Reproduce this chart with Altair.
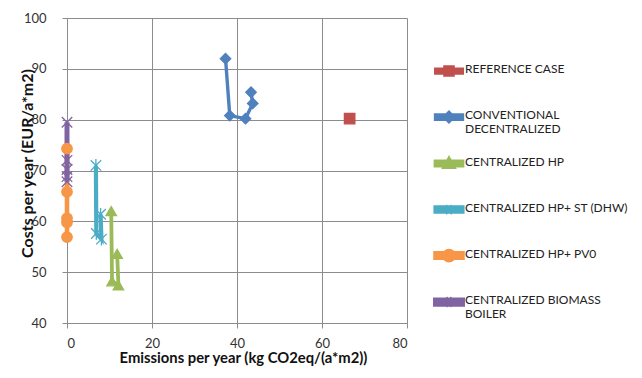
import altair as alt
import pandas as pd

series = [
    "REFERENCE CASE",
    "CONVENTIONAL DECENTRALIZED",
    "CENTRALIZED HP",
    "CENTRALIZED HP+ ST (DHW)",
    "CENTRALIZED HP+ PV0",
    "CENTRALIZED BIOMASS BOILER",
]
colors = ["#c0504d", "#4f81bd", "#9bbb59", "#4bacc6", "#f79646", "#8064a2"]
line_widths = [3, 5, 5, 5, 2.5, 2.5]

ref_x = [66.5]
ref_y = [80.2]
conv_x = [37.3, 38.3, 42.0, 43.7, 43.3]
conv_y = [92.0, 80.8, 80.2, 83.2, 85.4]
hp_x = [10.4, 10.6, 12.1, 11.8]
hp_y = [62.0, 48.2, 47.4, 53.6]
hpst_x = [6.8, 6.9, 8.1, 7.9]
hpst_y = [71.0, 57.6, 56.5, 61.4]
pv_x = [0.0, 0.0, 0.0, 0.0, 0.0]
pv_y = [74.3, 65.8, 60.6, 59.8, 56.9]
bio_x = [0.0, 0.0, 0.0, 0.0, 0.0]
bio_y = [79.5, 72.0, 70.2, 68.8, 67.8]

xs = [ref_x, conv_x, hp_x, hpst_x, pv_x, bio_x]
ys = [ref_y, conv_y, hp_y, hpst_y, pv_y, bio_y]

rows = []
for s, sx, sy in zip(series, xs, ys):
    for i, (a, b) in enumerate(zip(sx, sy)):
        rows.append({"series": s, "x": a, "y": b, "order": i})
df = pd.DataFrame(rows)
leg_df = pd.DataFrame({"key": series})

# marker shapes in plot
plot_shapes = [
    "square",
    "diamond",
    "triangle-up",
    "M-1,-1L1,1M1,-1L-1,1M0,-1.2L0,1.2",
    "circle",
    "M-1,-1L1,1M1,-1L-1,1",
]
# legend glyphs (line with marker), drawn slightly below anchor so they sit level with the label text
bar = "M-2.2,0.8H2.2V1.5H-2.2Z "
leg_shapes = [
    bar + "M-0.7,0.45H0.7V1.85H-0.7Z",
    bar + "M0,0.4L0.75,1.15L0,1.9L-0.75,1.15Z",
    bar + "M0,0.4L0.75,1.75L-0.75,1.75Z",
    bar + "M-0.6,0.55L0.6,1.75M0.6,0.55L-0.6,1.75",
    bar + "M0.75,1.15A0.75,0.75 0 1,1 -0.75,1.15A0.75,0.75 0 1,1 0.75,1.15Z",
    bar + "M-0.6,0.55L0.6,1.75M0.6,0.55L-0.6,1.75",
]

font = "Lato"

x_enc = alt.X("x:Q", scale=alt.Scale(domain=[0, 80]),
              axis=alt.Axis(title="Emissions per year (kg CO2eq/(a*m2))", values=[0, 20, 40, 60, 80],
                            titleX=176))
y_enc = alt.Y("y:Q", scale=alt.Scale(domain=[40, 100]),
              axis=alt.Axis(title="Costs per year (EUR/a*m2)", values=[40, 50, 60, 70, 80, 90, 100],
                            titleX=-40, titleY=145, titleBaseline="middle"))

label_expr = ("datum.label == 'CONVENTIONAL DECENTRALIZED' ? ['CONVENTIONAL', 'DECENTRALIZED'] : "
              "datum.label == 'CENTRALIZED BIOMASS BOILER' ? ['CENTRALIZED BIOMASS', 'BOILER'] : datum.label")

legend_props = dict(title=None, orient="none", legendX=373, legendY=38,
                    labelExpr=label_expr, symbolOpacity=1, symbolSize=150,
                    symbolStrokeWidth=1.5, rowPadding=12, gridAlign="all",
                    labelFont=font, labelFontSize=12, labelColor="#222222", labelOffset=7,
                    labelBaseline="top", symbolOffset=0, labelLimit=300)

# invisible layer that only provides the legend (color + shape on the same field)
legend_layer = alt.Chart(leg_df).mark_point(filled=True, opacity=0, strokeWidth=1.5).encode(
    color=alt.Color("key:N", scale=alt.Scale(domain=series, range=colors),
                    legend=alt.Legend(**legend_props)),
    shape=alt.Shape("key:N", scale=alt.Scale(domain=series, range=leg_shapes),
                    legend=alt.Legend(**legend_props)),
)

lines = alt.Chart(df).mark_line().encode(
    x=x_enc, y=y_enc,
    stroke=alt.Stroke("series:N", scale=alt.Scale(domain=series, range=colors), legend=None),
    strokeWidth=alt.StrokeWidth("series:N", scale=alt.Scale(domain=series, range=line_widths), legend=None),
    order="order:Q",
)

point_layers = []
for s, c, shp in zip(series, colors, plot_shapes):
    point_layers.append(
        alt.Chart(df).transform_filter(alt.datum.series == s).mark_point(
            shape=shp, filled=True, fill=c, stroke=c, strokeWidth=1.3, size=110, opacity=1
        ).encode(x="x:Q", y="y:Q")
    )

chart = alt.layer(legend_layer, lines, *point_layers).properties(
    width=340, height=305,
    background="white",
    autosize=alt.AutoSizeParams(type="none"),
    padding={"left": 59, "top": 10, "right": 227, "bottom": 47},
).configure_view(stroke=None).configure_axis(
    grid=True, gridColor="#8c8c8c", gridWidth=1, domainColor="#8c8c8c", tickColor="#8c8c8c",
    ticks=True, tickSize=5, labelFont=font, labelFontSize=13, labelColor="#333333",
    titleFont=font, titleFontSize=14.8, titleFontWeight="bold", titleColor="#111111",
).configure_axisY(titleFontSize=16, labelPadding=16).configure_axisX(titlePadding=0, labelPadding=9)

chart.save("out.html", embed_options={"renderer": "svg", "actions": False})
